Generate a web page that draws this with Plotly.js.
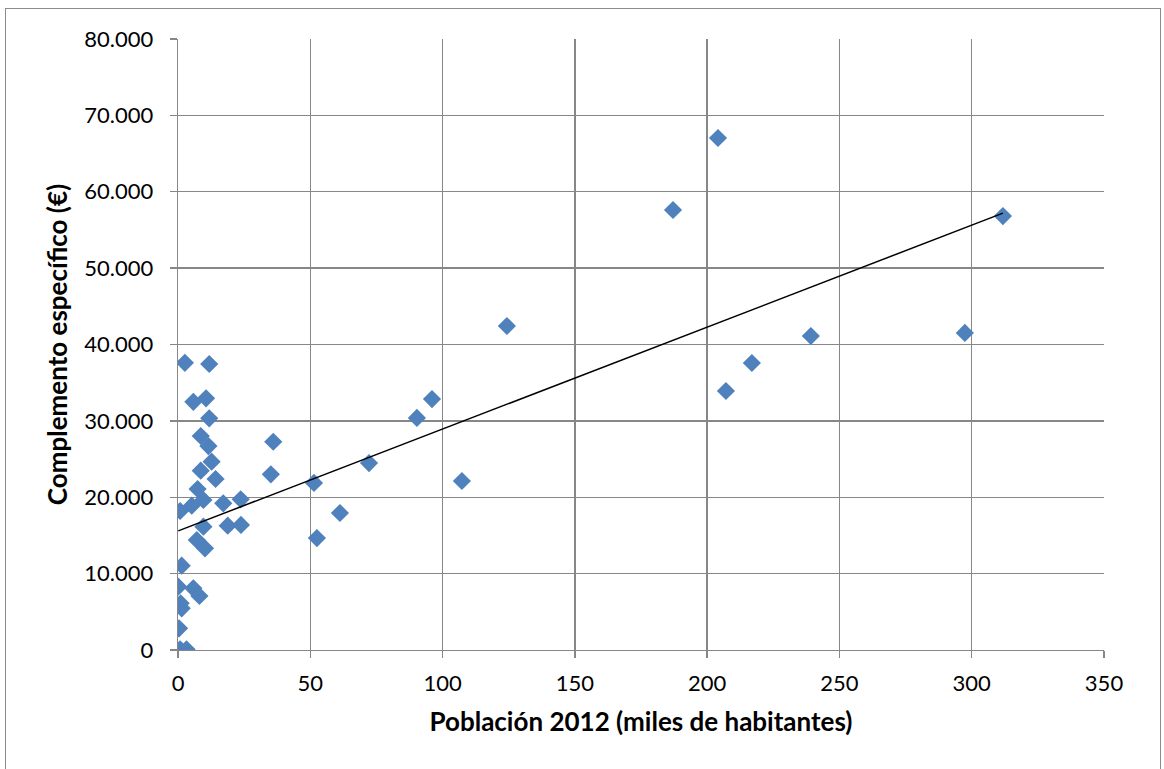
<!DOCTYPE html>
<html>
<head>
<meta charset="utf-8">
<script src="https://cdn.plot.ly/plotly-3.0.1.min.js"></script>
<style>
html,body{margin:0;padding:0;background:#fff;}
#chart{width:1164px;height:769px;position:relative;}
#frame{position:absolute;left:5px;top:8px;width:1156px;height:770px;border:1.5px solid #8c8c8c;box-sizing:border-box;pointer-events:none;}
</style>
</head>
<body>
<div id="chart"></div>
<div id="frame"></div>
<script>
// Población 2012 (miles de habitantes)
const poblacion = [2.6, 11.8, 5.8, 10.6, 11.8, 8.6, 11.5, 12.7, 8.6, 14.2, 36.0, 35.1,
  7.4, 9.6, 5.2, 0.8, 17.1, 23.7, 9.6, 18.8, 23.8, 7.1, 10.2, 1.4, 0.1, 5.8, 8.1,
  1.0, 1.4, 0.4, 0.8, 3.2,
  51.4, 52.5, 61.2, 72.2, 90.3, 96.0, 107.3, 124.3, 187.1, 204.1, 207.1, 216.9,
  239.2, 297.4, 311.8];
// Complemento específico (€)
const complemento = [37600, 37450, 32500, 32950, 30340, 28020, 26700, 24660, 23480, 22390, 27270, 23000,
  21080, 19640, 18900, 18200, 19200, 19730, 16150, 16280, 16370, 14400, 13310, 11040, 8290, 8070, 7070,
  6110, 5460, 2840, 90, 90,
  21870, 14660, 17940, 24480, 30380, 32860, 22130, 42420, 57610, 67040, 33910, 37580,
  41110, 41510, 56820];

// Linear trendline endpoints
const trendX = [0.1, 311.8];
const trendY = [15600, 57200];

const font = "Lato, 'Open Sans', sans-serif";
const data = [
  {x: poblacion, y: complemento, type:'scatter', mode:'markers',
   marker:{symbol:'diamond', size:14, color:'#4F81BD', line:{width:0}}, hoverinfo:'x+y'},
  {x: trendX, y: trendY, type:'scatter', mode:'lines',
   line:{color:'#000', width:1.5}, hoverinfo:'skip'}
];
const axisCommon = {
  showgrid:true, gridcolor:'#878787', gridwidth:1.3,
  showline:true, linecolor:'#878787', linewidth:1.3,
  ticks:'outside', ticklen:7, tickcolor:'#878787', tickwidth:1.3,
  zeroline:false, tickfont:{family:font, size:22, color:'#000'}
};
const layout = {
  width:1164, height:769,
  margin:{l:178, r:60, t:39, b:119},
  paper_bgcolor:'#fff', plot_bgcolor:'#fff',
  separators:',.',
  showlegend:false,
  xaxis: Object.assign({}, axisCommon, {
    range:[0,350], dtick:50, tick0:0, ticklabelstandoff:6,
    title:{text:'<b>Población 2012 (miles de habitantes)</b>', font:{family:font, size:26, color:'#000'}, standoff:18}
  }),
  yaxis: Object.assign({}, axisCommon, {
    range:[0,80000], dtick:10000, tick0:0, tickformat:',d', ticklabelstandoff:12,
    title:{text:'<b>Complemento específico (€)</b>', font:{family:font, size:26, color:'#000'}, standoff:9}
  })
};
Plotly.newPlot('chart', data, layout, {displayModeBar:false, staticPlot:true});
</script>
</body>
</html>
